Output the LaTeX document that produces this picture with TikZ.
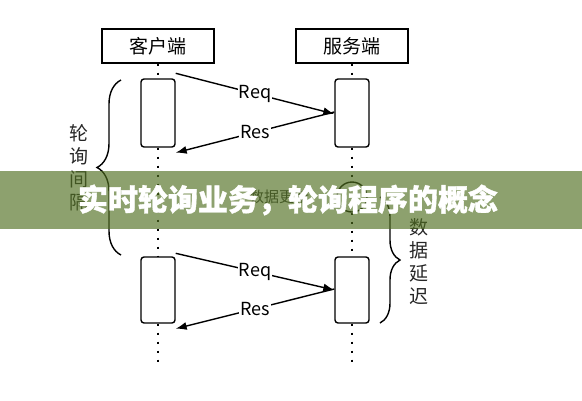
\documentclass[tikz,border=0pt]{standalone}
\usepackage{fontspec}
\setmainfont{Noto Sans CJK SC}
\newfontfamily\titlefont[BoldFeatures={FakeBold=1.2}]{Noto Sans CJK SC}
\usetikzlibrary{positioning,arrows.meta,decorations.pathreplacing}
\definecolor{bannergreen}{RGB}{80,111,32}
\tikzset{
  headbox/.style={draw, line width=1.4pt, minimum width=112pt, minimum height=34pt, inner sep=0pt, font=\fontsize{19}{19}\selectfont},
  actbox/.style={draw, line width=1.4pt, rounded corners=3pt, minimum width=34pt, inner sep=0pt},
  life/.style={line width=2pt, dash pattern=on 2pt off 7pt},
  msg/.style={line width=1.4pt, -{Latex[length=11pt,width=8pt]}},
  msglabel/.style={fill=white, inner sep=1pt, font=\fontsize{18}{18}\selectfont},
  brc/.style={decorate, decoration={brace, amplitude=#1}, line width=1.4pt},
  vlabel/.style={align=center, inner sep=0pt, font=\fontsize{19}{23}\selectfont, text=black!85},
}

\begin{document}
\begin{tikzpicture}[x=1pt,y=-1pt]
\useasboundingbox (0,0) rectangle (582,400);
% header boxes
\node[headbox] (client) at (158,46) {客户端};
\node[headbox] (server) at (352,46) {服务端};
% activation boxes
\node[actbox, minimum height=68pt] (ca1) at (158,113) {};
\node[actbox, minimum height=68pt] (sa1) at (352,113) {};
\node[actbox, minimum height=66pt] (ca2) at (158,290) {};
\node[actbox, minimum height=66pt] (sa2) at (352,290) {};
\node[circle, draw, line width=1.4pt, minimum size=30pt, inner sep=0pt] (upd) at (352,197) {};
\coordinate (cend) at (158,362);
\coordinate (send) at (352,362);
% lifelines
\draw[life] (client.south) -- (ca1.north);
\draw[life] (ca1.south) -- (ca2.north);
\draw[life] (ca2.south) -- (cend);
\draw[life] (server.south) -- (sa1.north);
\draw[life] (sa1.south) -- (upd.north);
\draw[life] (upd.south) -- (sa2.north);
\draw[life] (sa2.south) -- (send);
% messages
\draw[msg] ([yshift=5pt]ca1.north east) -- node[msglabel] {Req} ([yshift=-1pt]sa1.west);
\draw[msg] ([yshift=1pt]sa1.west) -- node[msglabel] {Res} ([yshift=-5pt]ca1.south east);
\draw[msg] ([yshift=3pt]ca2.north east) -- node[msglabel] {Req} ([yshift=0pt]sa2.west);
\draw[msg] ([yshift=1pt]sa2.west) -- node[msglabel] {Res} ([yshift=-5pt]ca2.south east);
\node[inner sep=0pt, font=\fontsize{15}{15}\selectfont, text=black!80, left=27pt of upd] (updtxt) {数据更新};
% braces and labels
\coordinate (lb1) at (121,255);
\coordinate (lb2) at (121,80);
\draw[brc=24pt] (lb1) -- (lb2);
\node[vlabel] (interval) at (79,168) {轮\\询\\间\\隔};
\coordinate (rb1) at (380,197);
\coordinate (rb2) at (380,323);
\draw[brc=20pt] (rb1) -- (rb2);
\node[vlabel] (delay) at (419,262) {数\\据\\延\\迟};
% banner
\fill[bannergreen, fill opacity=0.65] (0,171) rectangle (582,229);
\node[text=white, font=\fontsize{30}{30}\titlefont\bfseries] (title) at (288,200) {实时轮询业务，轮询程序的概念};
\end{tikzpicture}
\end{document}
